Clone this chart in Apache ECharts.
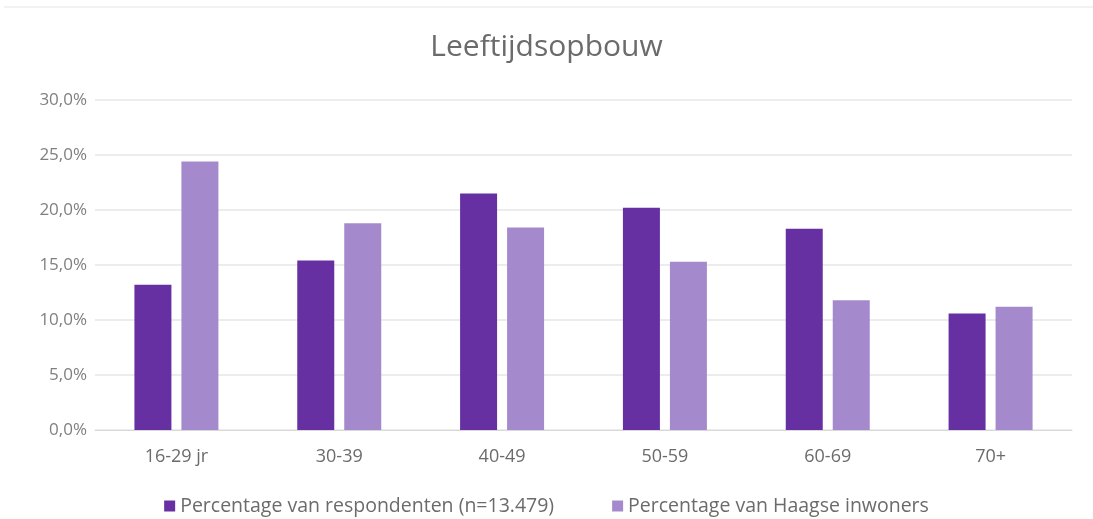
<!DOCTYPE html>
<html>
<head>
<meta charset="utf-8">
<script src="https://cdn.jsdelivr.net/npm/echarts@6/dist/echarts.min.js"></script>
<style>
  html, body { margin: 0; padding: 0; background: #fff; }
  #myChart { width: 1093px; height: 519px; }
</style>
</head>
<body>
<div id="myChart"></div>
<script>
// leeftijdsgroepen en percentages
var categories = ["16-29 jr", "30-39", "40-49", "50-59", "60-69", "70+"];
var respondenten = [13.2, 15.4, 21.5, 20.2, 18.3, 10.6];
var inwoners = [24.4, 18.8, 18.4, 15.3, 11.8, 11.2];
var seriesNames = ["Percentage van respondenten (n=13.479)", "Percentage van Haagse inwoners"];

var myChart = echarts.init(document.getElementById("myChart"));
myChart.setOption({
  color: ["#6630a2", "#a48acc"],
  textStyle: { fontFamily: "'Open Sans', Lato, sans-serif" },
  title: {
    text: "Leeftijdsopbouw",
    left: "center",
    top: 27,
    textStyle: { color: "#6b6b6b", fontSize: 30, fontWeight: "normal" }
  },
  graphic: [{
    type: "line",
    shape: { x1: 4, y1: 7, x2: 1093, y2: 7 },
    style: { stroke: "#eeeeee", lineWidth: 1.5 }
  }],
  grid: { left: 95, right: 21, top: 100, bottom: 89, containLabel: false },
  legend: {
    bottom: -2,
    left: "center",
    itemWidth: 11,
    itemHeight: 11,
    itemGap: 58,
    icon: "rect",
    textStyle: { color: "#6b6b6b", fontSize: 19.5 },
    data: seriesNames
  },
  xAxis: {
    type: "category",
    data: categories,
    axisTick: { show: false },
    axisLine: { lineStyle: { color: "#d9d9d9" } },
    axisLabel: { color: "#6b6b6b", fontSize: 18, margin: 18 }
  },
  yAxis: {
    type: "value",
    min: 0,
    max: 30,
    interval: 5,
    axisLabel: {
      color: "#7f7f7f",
      fontSize: 17,
      margin: 8,
      formatter: function (v) { return v.toFixed(1).replace(".", ",") + "%"; }
    },
    splitLine: { lineStyle: { color: "#e6e6e6", width: 1.5 } }
  },
  series: [
    {
      name: seriesNames[0],
      type: "bar",
      barWidth: 37,
      barGap: "27%",
      data: respondenten
    },
    {
      name: seriesNames[1],
      type: "bar",
      barWidth: 37,
      data: inwoners
    }
  ]
});
</script>
</body>
</html>
